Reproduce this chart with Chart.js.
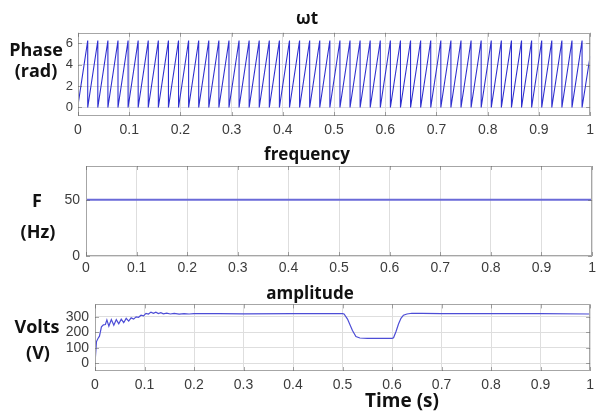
<!DOCTYPE html>
<html>
<head>
<meta charset="utf-8">
<script src="https://cdn.jsdelivr.net/npm/chart.js@4/dist/chart.umd.min.js"></script>
<style>
  html, body { margin: 0; padding: 0; background: #ffffff; }
  #wrap { position: relative; width: 600px; height: 412px; overflow: hidden; background: #fff; }
  canvas { position: absolute; left: 0; }
  .lbl { position: absolute; font-family: "Open Sans", "DejaVu Sans", sans-serif; font-weight: bold; color: #111;
         transform: translate(-50%, -50%); white-space: nowrap; line-height: 1; }
</style>
</head>
<body>
<div id="wrap">
  <canvas id="c1" width="600" height="125" style="top:20px"></canvas>
  <canvas id="c2" width="600" height="130" style="top:150px"></canvas>
  <canvas id="c3" width="600" height="110" style="top:290px"></canvas>

  <div class="lbl" style="left:307px;top:17px;font-size:17px">ωt</div>
  <div class="lbl" style="left:307px;top:153px;font-size:17px">frequency</div>
  <div class="lbl" style="left:310px;top:292px;font-size:17px">amplitude</div>
  <div class="lbl" style="left:402px;top:400px;font-size:19px">Time (s)</div>

  <div class="lbl" style="left:36px;top:49px;font-size:18px">Phase</div>
  <div class="lbl" style="left:36px;top:70px;font-size:18px">(rad)</div>
  <div class="lbl" style="left:37px;top:200px;font-size:18px">F</div>
  <div class="lbl" style="left:38px;top:231px;font-size:18px">(Hz)</div>
  <div class="lbl" style="left:37px;top:326px;font-size:18px">Volts</div>
  <div class="lbl" style="left:38px;top:352px;font-size:18px">(V)</div>
</div>
<script>
// ---------- data ----------
const timeTicks = [0, 0.1, 0.2, 0.3, 0.4, 0.5, 0.6, 0.7, 0.8, 0.9, 1];

// phase (wt): sawtooth wrap instants
const phaseStart = 0.22;
const phaseEnd = 4.8;
const phasePeak = 6.28;
const phaseWrapTimes = [0.019, 0.0387, 0.0584, 0.0781, 0.0978, 0.1175, 0.1372, 0.1569, 0.1766, 0.1963,
  0.216, 0.2357, 0.2554, 0.2751, 0.2948, 0.3145, 0.3342, 0.3539, 0.3736, 0.3933,
  0.413, 0.4327, 0.4524, 0.4721, 0.4918, 0.5115, 0.5312, 0.5509, 0.5706, 0.5903,
  0.61, 0.6297, 0.6494, 0.6691, 0.6888, 0.7085, 0.7282, 0.7479, 0.7676, 0.7873,
  0.807, 0.8267, 0.8464, 0.8661, 0.8858, 0.9055, 0.9252, 0.9449, 0.9646, 0.9843];
const phaseTicks = [0, 2, 4, 6];

// frequency
const freqTimes = [0, 1];
const freqValues = [50, 50];
const freqTicks = [0, 50];

// amplitude
const ampTimes = [0, 0.003, 0.006, 0.009, 0.013, 0.017, 0.021, 0.024, 0.028, 0.033, 0.038, 0.043, 0.048,
  0.053, 0.058, 0.063, 0.068, 0.073, 0.078, 0.083, 0.088, 0.093, 0.098, 0.103, 0.108, 0.113, 0.118,
  0.123, 0.128, 0.133, 0.138, 0.145, 0.152, 0.16, 0.17, 0.18, 0.19, 0.2, 0.25, 0.3, 0.4, 0.5,
  0.503, 0.51, 0.52, 0.527, 0.535, 0.55, 0.575, 0.6, 0.603, 0.608, 0.613, 0.618, 0.623, 0.63, 0.64,
  0.66, 0.7, 0.8, 0.9, 1.0];
const ampValues = [0, 140, 160, 175, 235, 248, 250, 280, 240, 282, 245, 282, 255,
  285, 262, 290, 272, 293, 285, 300, 297, 310, 306, 322, 318, 330, 322,
  330, 321, 326, 319, 323, 318, 322, 317, 321, 318, 320, 320, 319, 320, 320,
  318, 285, 211, 172, 163, 161, 160, 161, 165, 205, 253, 290, 310, 318, 323,
  322, 321, 320, 320, 318];
const ampTicks = [0, 100, 200, 300];

// ---------- build point tables ----------
const phasePts = [{x: 0, y: phaseStart}];
phaseWrapTimes.forEach(t => { phasePts.push({x: t, y: phasePeak}); phasePts.push({x: t, y: 0}); });
phasePts.push({x: 1, y: phaseEnd});
const freqPts = freqTimes.map((t, i) => ({x: t, y: freqValues[i]}));
const ampPts = ampTimes.map((t, i) => ({x: t, y: ampValues[i]}));

// ---------- helpers ----------
const boxPlugin = {
  id: 'box',
  afterDatasetsDraw(chart) {
    const a = chart.chartArea, ctx = chart.ctx;
    ctx.save();
    ctx.strokeStyle = '#a6a6a6';
    ctx.lineWidth = 1;
    ctx.strokeRect(Math.round(a.left) + 0.5, Math.round(a.top) + 0.5,
      Math.round(a.right - a.left) - 1, Math.round(a.bottom - a.top) - 1);
    // small inward tick marks (MATLAB style)
    ctx.strokeStyle = '#555';
    const xs = chart.scales.x, ys = chart.scales.y;
    ctx.beginPath();
    xs.ticks.forEach(t => {
      const px = Math.round(xs.getPixelForValue(t.value)) + 0.5;
      ctx.moveTo(px, a.bottom); ctx.lineTo(px, a.bottom - 4);
      ctx.moveTo(px, a.top); ctx.lineTo(px, a.top + 4);
    });
    ys.ticks.forEach(t => {
      const py = Math.round(ys.getPixelForValue(t.value)) + 0.5;
      ctx.moveTo(a.left, py); ctx.lineTo(a.left + 4, py);
      ctx.moveTo(a.right, py); ctx.lineTo(a.right - 4, py);
    });
    ctx.globalAlpha = 0.5;
    ctx.stroke();
    ctx.restore();
  }
};

function makeChart(id, pts, cfg) {
  return new Chart(document.getElementById(id), {
    type: 'line',
    data: { datasets: [{ data: pts, borderColor: cfg.color, borderWidth: cfg.width,
      pointRadius: 0, tension: 0, fill: false }] },
    plugins: [boxPlugin],
    options: {
      responsive: false, devicePixelRatio: 1, animation: false,
      layout: { padding: { top: cfg.padTop, right: 5, left: 0, bottom: 0 } },
      plugins: { legend: { display: false }, tooltip: { enabled: false }, title: { display: false } },
      scales: {
        x: {
          type: 'linear', min: 0, max: 1,
          afterBuildTicks: s => { s.ticks = timeTicks.map(v => ({value: v})); },
          afterFit: s => { s.height = cfg.xHeight; },
          grid: { color: '#dedede', drawTicks: false, lineWidth: 1 },
          border: { display: false },
          ticks: { padding: cfg.xPad, color: '#3c3c3c', maxRotation: 0,
            font: { family: 'Liberation Sans, Arial, sans-serif', size: 14 },
            callback: v => String(v) }
        },
        y: {
          type: 'linear', min: cfg.min, max: cfg.max,
          afterBuildTicks: s => { s.ticks = cfg.ticks.map(v => ({value: v})); },
          afterFit: s => { s.width = cfg.yWidth; },
          grid: { color: '#dedede', drawTicks: false, lineWidth: 1 },
          border: { display: false },
          ticks: { padding: cfg.yPad, color: '#3c3c3c',
            font: { family: 'Liberation Sans, Arial, sans-serif', size: cfg.ySize },
            callback: v => String(v) }
        }
      }
    }
  });
}

makeChart('c1', phasePts, { color: '#2f2fcf', width: 1.1, min: -0.8, max: 7, ticks: phaseTicks,
  padTop: 9, xHeight: 29, yWidth: 78, xPad: 6, yPad: 5, ySize: 13 });
makeChart('c2', freqPts, { color: '#6a6ad8', width: 2, min: 0, max: 80, ticks: freqTicks,
  padTop: 16, xHeight: 24, yWidth: 86, xPad: 4, yPad: 6, ySize: 14 });
makeChart('c3', ampPts, { color: '#4d4dd6', width: 1.2, min: -50, max: 380, ticks: ampTicks,
  padTop: 13, xHeight: 29, yWidth: 95, xPad: 6, yPad: 6, ySize: 14 });
</script>
</body>
</html>
